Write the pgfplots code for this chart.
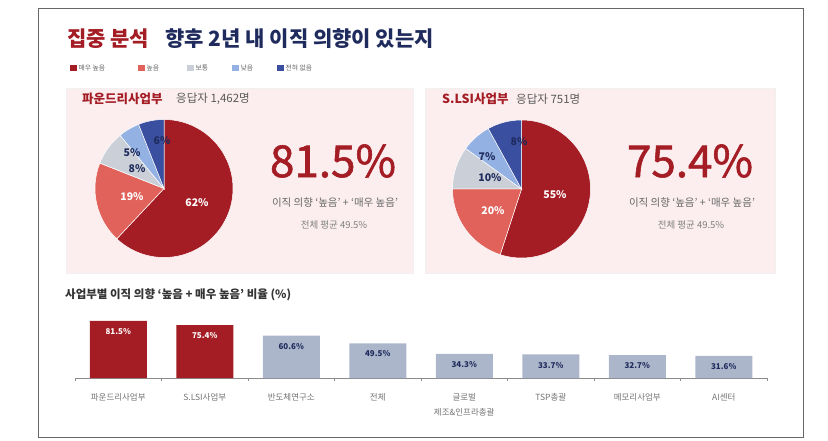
\documentclass[border=0pt]{standalone}
\usepackage{pgfplots}
\pgfplotsset{compat=1.18}
\usepackage{fontspec}
\setmainfont{Noto Sans CJK KR}
\newfontfamily\numfont[FakeBold=1.3]{Noto Sans CJK KR}
\definecolor{cA}{HTML}{A41C24}
\definecolor{cB}{HTML}{E0625A}
\definecolor{cC}{HTML}{CBD0D8}
\definecolor{cD}{HTML}{93B1E2}
\definecolor{cE}{HTML}{3A4FA0}
\definecolor{barGray}{HTML}{ACB6CA}
\definecolor{navy}{HTML}{1F2B5C}
\definecolor{pinkBg}{HTML}{FCEEEF}
\definecolor{titleRed}{HTML}{A41C24}
\begin{document}
\begin{tikzpicture}[x=1pt,y=1pt]
\path[use as bounding box] (0,0) rectangle (828,440);
\draw[black!60, line width=0.7pt] (38,3) rectangle (803,432);
% title
\node[anchor=west, text=titleRed, font=\fontsize{21}{24}\selectfont\bfseries, inner sep=0pt] at (67,401) {집중 분석};
\node[anchor=west, text=navy, font=\fontsize{21}{24}\selectfont\bfseries, inner sep=0pt] at (165,401) {향후 2년 내 이직 의향이 있는지};
% legend
\foreach \x/\c/\t in {70/cA/매우 높음, 138/cB/높음, 187/cC/보통, 232/cD/낮음, 277/cE/전혀 없음}{
  \fill[\c] (\x,368.5) rectangle ++(6.5,6.5);
  \node[anchor=west, inner sep=0pt, text=black!60, font=\fontsize{6.8}{8}\selectfont] at (\x+8.5,371.8) {\t};
}
% panels
\fill[pinkBg, draw=black!6] (66,167) rectangle (413,352);
\fill[pinkBg, draw=black!6] (425,167) rectangle (775,352);
\node[anchor=west, inner sep=0pt, text=titleRed, font=\fontsize{12.5}{14}\selectfont\bfseries] at (82,341) {파운드리사업부};
\node[anchor=west, inner sep=0pt, text=black!65, font=\fontsize{11.5}{13}\selectfont] at (176,341) {응답자 1,462명};
\node[anchor=west, inner sep=0pt, text=titleRed, font=\fontsize{12.5}{14}\selectfont\bfseries] at (442,341) {S.LSI사업부};
\node[anchor=west, inner sep=0pt, text=black!65, font=\fontsize{11.5}{13}\selectfont] at (516,341) {응답자 751명};
% big numbers
\node[text=titleRed, font=\numfont\fontsize{44}{46}\selectfont, inner sep=0pt] at (333,279) {81.5\%};
\node[text=black!60, font=\fontsize{10.5}{12}\selectfont, inner sep=0pt] at (335,237) {이직 의향 `높음' + `매우 높음'};
\node[text=black!50, font=\fontsize{9.5}{11}\selectfont, inner sep=0pt] at (334,215) {전체 평균 49.5\%};
\node[text=titleRed, font=\numfont\fontsize{44}{46}\selectfont, inner sep=0pt] at (690,279) {75.4\%};
\node[text=black!60, font=\fontsize{10.5}{12}\selectfont, inner sep=0pt] at (692,237) {이직 의향 `높음' + `매우 높음'};
\node[text=black!50, font=\fontsize{9.5}{11}\selectfont, inner sep=0pt] at (691,215) {전체 평균 49.5\%};
% pie 1
\begin{axis}[at={(164pt,251.5pt)}, anchor=center, x=1pt, y=1pt, xmin=-70, xmax=70, ymin=-70, ymax=70, hide axis, clip=false]
\addplot[draw=none] coordinates {(0,0)};
\pgfplotsextra{
\foreach \s/\v/\c in {0/62/cA, 62/19/cB, 81/8/cC, 89/5/cD, 94/6/cE}{
  \fill[\c, draw=white, line width=0.5pt] (axis cs:0,0) -- ++({90-3.6*\s}:69pt) arc[start angle={90-3.6*\s}, delta angle={-3.6*\v}, radius=69pt] -- cycle;
}}
\node[text=white, font=\fontsize{10.5}{12}\selectfont\bfseries] at (axis cs:33,-14.5) {62\%};
\node[text=white, font=\fontsize{10.5}{12}\selectfont\bfseries] at (axis cs:-32,-8.5) {19\%};
\node[text=navy, font=\fontsize{10.5}{12}\selectfont\bfseries] at (axis cs:-27,20) {8\%};
\node[text=navy, font=\fontsize{10.5}{12}\selectfont\bfseries] at (axis cs:-32,36) {5\%};
\node[text=navy, font=\fontsize{10.5}{12}\selectfont\bfseries] at (axis cs:-2,48) {6\%};
\end{axis}
% pie 2
\begin{axis}[at={(521.5pt,251pt)}, anchor=center, x=1pt, y=1pt, xmin=-70, xmax=70, ymin=-70, ymax=70, hide axis, clip=false]
\addplot[draw=none] coordinates {(0,0)};
\pgfplotsextra{
\foreach \s/\v/\c in {0/55/cA, 55/20/cB, 75/10/cC, 85/7/cD, 92/8/cE}{
  \fill[\c, draw=white, line width=0.5pt] (axis cs:0,0) -- ++({90-3.6*\s}:69pt) arc[start angle={90-3.6*\s}, delta angle={-3.6*\v}, radius=69pt] -- cycle;
}}
\node[text=white, font=\fontsize{10.5}{12}\selectfont\bfseries] at (axis cs:33.5,-6) {55\%};
\node[text=white, font=\fontsize{10.5}{12}\selectfont\bfseries] at (axis cs:-28.5,-22) {20\%};
\node[text=navy, font=\fontsize{10.5}{12}\selectfont\bfseries] at (axis cs:-31.5,11) {10\%};
\node[text=navy, font=\fontsize{10.5}{12}\selectfont\bfseries] at (axis cs:-34.5,32) {7\%};
\node[text=navy, font=\fontsize{10.5}{12}\selectfont\bfseries] at (axis cs:-2.5,47) {8\%};
\end{axis}
% bar section
\node[anchor=west, inner sep=0pt, text=black!80, font=\fontsize{11.5}{13}\selectfont\bfseries] at (65,145) {사업부별 이직 의향 `높음 + 매우 높음' 비율 (\%)};
\begin{axis}[at={(75pt,62pt)}, anchor=south west, x=86.5pt, y=0.7pt,
  xmin=-0.5, xmax=7.5, ymin=0, ymax=90, ybar, bar width=57pt,
  axis x line*=bottom, axis y line=none,
  xtick={0,...,7},
  xticklabels={파운드리사업부, S.LSI사업부, 반도체연구소, 전체, {글로벌\\제조\&인프라총괄}, TSP총괄, 메모리사업부, AI센터},
  major tick length=0pt, minor xtick={-0.5,0.5,...,7.5}, minor tick length=3pt, tick align=outside,
  xticklabel style={align=center, text=black!55, font=\fontsize{8.5}{15}\selectfont, yshift=-12pt},
  axis line style={black!45, line width=0.7pt}, minor tick style={black!45, line width=0.6pt},
  /pgf/number format/assume math mode=true,
  nodes near coords={\pgfmathprintnumber[fixed,fixed zerofill,precision=1]{\pgfplotspointmeta}\%},
  every node near coord/.append style={anchor=north, yshift=-4pt, font=\fontsize{8}{9}\selectfont\bfseries},
  clip=false]
\addplot[fill=cA, draw=none, bar shift=0pt, every node near coord/.append style={text=white}] coordinates {(0,81.5) (1,75.4)};
\addplot[fill=barGray, draw=none, bar shift=0pt, every node near coord/.append style={text=navy}] coordinates {(2,60.6) (3,49.5) (4,34.3) (5,33.7) (6,32.7) (7,31.6)};
\end{axis}
\end{tikzpicture}
\end{document}
